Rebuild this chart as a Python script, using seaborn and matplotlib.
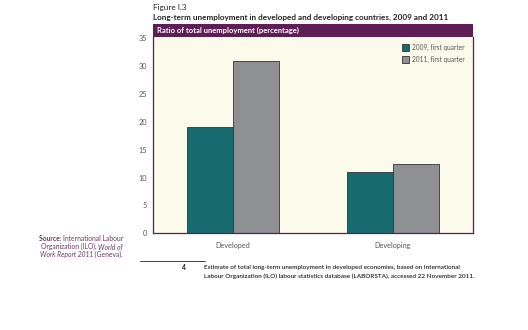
import matplotlib
matplotlib.use("Agg")
import matplotlib.pyplot as plt
import seaborn as sns
import pandas as pd
from matplotlib.patches import Rectangle

categories = ["Developed", "Developing"]
series_names = ["2009, first quarter", "2011, first quarter"]
values_2009 = [19.0, 11.0]
values_2011 = [31.0, 12.4]
y_ticks = [0, 5, 10, 15, 20, 25, 30, 35]

df = pd.DataFrame({
    "category": categories * 2,
    "series": [series_names[0]] * 2 + [series_names[1]] * 2,
    "value": values_2009 + values_2011,
})

sns.set_theme(style="white")
plt.rcParams["font.family"] = ["Lato", "DejaVu Sans"]

TEAL = "#186a71"
GREY = "#8f9094"
CREAM = "#fcfaea"
PURPLE = "#5e1d55"
TXT = "#555555"

fig = plt.figure(figsize=(5.28, 3.3), dpi=100)
fig.patch.set_facecolor("white")
ax = fig.add_axes([153/528, 1 - 233.3/330, 320/528, (233.3 - 36.7)/330])
ax.set_facecolor(CREAM)

sns.barplot(data=df, x="category", y="value", hue="series", order=categories,
            hue_order=series_names, palette=[TEAL, GREY], width=0.575,
            edgecolor="#333333", linewidth=0.6, ax=ax, saturation=1)

ax.set_xlim(-0.5, 1.5)
ax.set_ylim(0, 35.3)
ax.set_yticks(y_ticks)
ax.set_yticklabels([str(t) for t in y_ticks])
ax.set_xlabel("")
ax.set_ylabel("")
ax.set_xticks([0, 1])
ax.set_xticklabels(categories)
ax.set_xticks([-0.5, 0.5, 1.5], minor=True)
ax.tick_params(axis="x", which="major", length=0, labelsize=5.2, labelcolor=TXT, pad=6)
ax.tick_params(axis="x", which="minor", length=3, direction="inout", color=PURPLE, width=0.6)
ax.tick_params(axis="y", length=3, direction="inout", color=PURPLE, width=0.6,
               labelsize=5.2, labelcolor=TXT, pad=3)
for side in ["left", "bottom", "right"]:
    ax.spines[side].set_visible(True)
    ax.spines[side].set_color(PURPLE)
    ax.spines[side].set_linewidth(0.9)
ax.spines["top"].set_visible(False)

leg = ax.legend(loc="upper right", bbox_to_anchor=(0.985, 0.985), frameon=False,
                fontsize=4.7, handlelength=1.15, handleheight=1.2, handletextpad=0.35,
                labelspacing=0.75, borderaxespad=0.2)
for t in leg.get_texts():
    t.set_color(TXT)

# header bar
fig.patches.append(Rectangle((153/528, 1 - 36.7/330), 320/528, 12.7/330,
                             transform=fig.transFigure, facecolor=PURPLE,
                             edgecolor="none", zorder=3))
fig.text(157/528, 1 - 30.5/330, "Ratio of total unemployment (percentage)",
         color="white", fontsize=5.5, fontweight="bold", va="center", ha="left", zorder=4)

fig.text(153/528, 1 - 7.5/330, "Figure I.3", fontsize=5.9, color="#222222",
         va="center", ha="left")
fig.text(153/528, 1 - 17.5/330,
         "Long-term unemployment in developed and developing countries, 2009 and 2011",
         fontsize=5.85, fontweight="bold", color="#222222", va="center", ha="left")

# source (right aligned, mixed styles)
SRC = "#6b3a66"
def rline(y, pieces):
    prev = None
    for text, style in reversed(pieces):
        kw = dict(fontsize=4.9, color=SRC, va="center", ha="right")
        if style == "b":
            kw["fontweight"] = "bold"
        elif style == "i":
            kw["fontstyle"] = "italic"
        if prev is None:
            prev = fig.text(123/528, 1 - y/330, text, **kw)
        else:
            prev = ax.annotate(text, xy=(0, 0.5), xycoords=prev,
                               annotation_clip=False, **kw)

rline(238.5, [("Source: ", "b"), ("International Labour", "r")])
rline(246.5, [("Organization (ILO), ", "r"), ("World of", "i")])
rline(254.5, [("Work Report 2011", "i"), (" (Geneva).", "r")])

# footnote
fig.add_artist(plt.Line2D([140/528, 205/528], [1 - 260.5/330, 1 - 260.5/330],
                          transform=fig.transFigure, color="#222222", linewidth=0.6))
fig.text(184/528, 1 - 267/330, "4", fontsize=4.8, fontweight="bold", color="#222222",
         va="center", ha="center")
fig.text(204/528, 1 - 267/330,
         "Estimate of total long-term unemployment in developed economies, based on International",
         fontsize=4.6, fontweight="semibold", color="#222222", va="center", ha="left")
fig.text(204/528, 1 - 276/330,
         "Labour Organization (ILO) labour statistics database (LABORSTA), accessed 22 November 2011.",
         fontsize=4.6, fontweight="semibold", color="#222222", va="center", ha="left")

fig.savefig("out.png", dpi=100)
